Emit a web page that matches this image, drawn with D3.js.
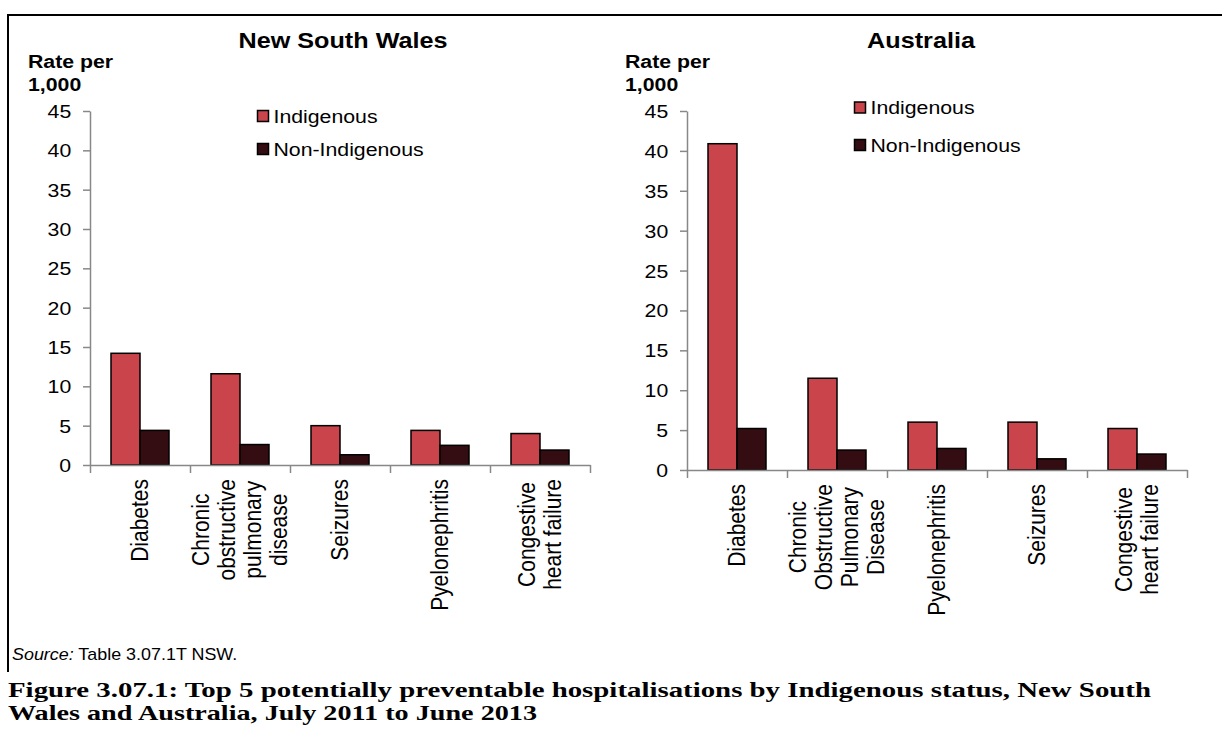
<!DOCTYPE html>
<html>
<head>
<meta charset="utf-8">
<script src="https://cdn.jsdelivr.net/npm/d3@7"></script>
<style>
  html, body { margin: 0; padding: 0; background: #ffffff; }
  svg { display: block; }
</style>
</head>
<body>
<svg id="chart" width="1222" height="740"></svg>
<script>
// ---------------- DATA ----------------
const seriesNames = ["Indigenous", "Non-Indigenous"];

const nswCategories = ["Diabetes", "Chronic\nobstructive\npulmonary\ndisease", "Seizures", "Pyelonephritis", "Congestive\nheart failure"];
const nswIndigenous = [14.2, 11.6, 5.0, 4.4, 4.0];
const nswNonIndigenous = [4.4, 2.6, 1.3, 2.5, 1.9];

const ausCategories = ["Diabetes", "Chronic\nObstructive\nPulmonary\nDisease", "Pyelonephritis", "Seizures", "Congestive\nheart failure"];
const ausIndigenous = [40.9, 11.5, 6.0, 6.0, 5.2];
const ausNonIndigenous = [5.2, 2.5, 2.7, 1.4, 2.0];

const yTickValues = [0, 5, 10, 15, 20, 25, 30, 35, 40, 45];
const yAxisLabel = ["Rate per", "1,000"];
const panelTitles = ["New South Wales", "Australia"];
const sourceItalic = "Source:";
const sourceRest = " Table 3.07.1T NSW.";
const captionLines = [
  "Figure 3.07.1: Top 5 potentially preventable hospitalisations by Indigenous status, New South",
  "Wales and Australia, July 2011 to June 2013"
];

// ---------------- STYLE ----------------
const colors = { "Indigenous": "#c9444b", "Non-Indigenous": "#330d11" };
const SX = 1.12;              // horizontal stretch of the original picture
const axisColor = "#888888";
const sansFont = "Arial, 'Liberation Sans', sans-serif";

const svg = d3.select("#chart");

// frame
svg.append("line").attr("x1", 8).attr("x2", 1222).attr("y1", 15).attr("y2", 15)
  .attr("stroke", "#000").attr("stroke-width", 2);
svg.append("line").attr("x1", 8).attr("x2", 8).attr("y1", 14).attr("y2", 672)
  .attr("stroke", "#000").attr("stroke-width", 2);

function stretchedText(parent, x, y, txt, opts) {
  const t = parent.append("text")
    .attr("transform", `translate(${x},${y}) scale(${SX},1)`)
    .attr("font-family", opts.family || sansFont)
    .attr("font-size", opts.size)
    .attr("font-weight", opts.weight || "normal")
    .attr("text-anchor", opts.anchor || "start")
    .attr("fill", "#000")
    .text(txt);
  return t;
}

function drawPanel(cfg) {
  const g = svg.append("g");
  const cats = cfg.categories;
  const data = cats.map((c, i) => ({ cat: c, "Indigenous": cfg.ind[i], "Non-Indigenous": cfg.non[i] }));

  const x0 = d3.scaleBand().domain(cats).range([cfg.x0, cfg.x1]).paddingInner(0.42).paddingOuter(0.21);
  const x1 = d3.scaleBand().domain(seriesNames).range([0, x0.bandwidth()]);
  const y = d3.scaleLinear().domain([0, 45]).range([cfg.yBase, cfg.yTop]);

  // y axis
  const yAxis = g.append("g").attr("transform", `translate(${cfg.x0},0)`)
    .call(d3.axisLeft(y).tickValues(yTickValues).tickSize(7).tickSizeOuter(0).tickPadding(10));
  yAxis.select(".domain").attr("stroke", axisColor).attr("stroke-width", 1.5);
  yAxis.selectAll(".tick line").attr("stroke", axisColor).attr("stroke-width", 1.5);
  yAxis.selectAll(".tick text")
    .attr("font-family", sansFont).attr("font-size", 19).attr("fill", "#000")
    .attr("x", -18.8 / SX).attr("dy", "0.34em")
    .attr("transform", `scale(${SX},1)`);

  // bars
  const groups = g.selectAll(".grp").data(data).enter().append("g")
    .attr("transform", d => `translate(${x0(d.cat)},0)`);
  groups.selectAll("rect").data(d => seriesNames.map(s => ({ s, v: d[s] }))).enter().append("rect")
    .attr("x", d => x1(d.s))
    .attr("width", x1.bandwidth())
    .attr("y", d => y(d.v))
    .attr("height", d => y(0) - y(d.v))
    .attr("fill", d => colors[d.s])
    .attr("stroke", "#000").attr("stroke-width", 1.5);

  // x axis (category boundaries)
  const xb = d3.scaleLinear().domain([0, cats.length]).range([cfg.x0, cfg.x1]);
  const xAxis = g.append("g").attr("transform", `translate(0,${cfg.yBase})`)
    .call(d3.axisBottom(xb).tickValues(d3.range(cats.length + 1)).tickSize(8).tickSizeOuter(0).tickFormat(""));
  xAxis.select(".domain").attr("stroke", axisColor).attr("stroke-width", 1.5);
  xAxis.selectAll(".tick line").attr("stroke", axisColor).attr("stroke-width", 1.5);

  // category labels (rotated, multi-line)
  const labelSize = 21, lineH = 23.2;
  cats.forEach(c => {
    const lines = c.split("\n");
    const cx = x0(c) + x0.bandwidth() / 2;
    const top = cfg.yBase + 14;
    const lg = g.append("g");
    const texts = lines.map((ln, i) => lg.append("text")
      .attr("font-family", sansFont).attr("font-size", labelSize).attr("fill", "#000")
      .attr("text-anchor", "middle").attr("dy", "0.35em")
      .attr("y", (i - (lines.length - 1) / 2) * lineH)
      .text(ln));
    const maxLen = d3.max(texts, t => t.node().getComputedTextLength());
    texts.forEach(t => t.attr("transform", `translate(${cx},${top + maxLen / 2}) scale(${SX},1) rotate(-90)`));
  });

  // title
  stretchedText(g, cfg.titleX, 48, cfg.title, { size: 22.5, weight: "bold", anchor: "middle" });
  // y axis label
  stretchedText(g, cfg.labelX, 68, yAxisLabel[0], { size: 19, weight: "bold" });
  stretchedText(g, cfg.labelX, 91, yAxisLabel[1], { size: 19, weight: "bold" });

  // legend
  seriesNames.forEach((s, i) => {
    const ly = cfg.legendY[i];
    g.append("rect").attr("x", cfg.legendX).attr("y", ly).attr("width", 11).attr("height", 11)
      .attr("fill", colors[s]).attr("stroke", "#000").attr("stroke-width", 1.5);
    stretchedText(g, cfg.legendX + 16, ly + 12, s, { size: 19 });
  });
}

drawPanel({
  categories: nswCategories, ind: nswIndigenous, non: nswNonIndigenous,
  x0: 90, x1: 590, yBase: 465, yTop: 111,
  title: panelTitles[0], titleX: 343, labelX: 28,
  legendX: 257.5, legendY: [110.5, 143.5]
});
drawPanel({
  categories: ausCategories, ind: ausIndigenous, non: ausNonIndigenous,
  x0: 687, x1: 1187, yBase: 470, yTop: 111,
  title: panelTitles[1], titleX: 921, labelX: 625,
  legendX: 854.5, legendY: [102, 139.5]
});

// source
const src = svg.append("text").attr("transform", `translate(12,660) scale(${SX},1)`)
  .attr("font-family", sansFont).attr("font-size", 16).attr("fill", "#000");
src.append("tspan").attr("font-style", "italic").text(sourceItalic);
src.append("tspan").text(sourceRest);

// caption
const capWidths = [1143, 529];
captionLines.forEach((ln, i) => {
  svg.append("text").attr("x", 8).attr("y", 697 + i * 23)
    .attr("font-family", "'Liberation Serif', 'DejaVu Serif', serif")
    .attr("font-size", 21).attr("font-weight", "bold").attr("fill", "#000")
    .attr("textLength", capWidths[i]).attr("lengthAdjust", "spacingAndGlyphs")
    .text(ln);
});
</script>
</body>
</html>
